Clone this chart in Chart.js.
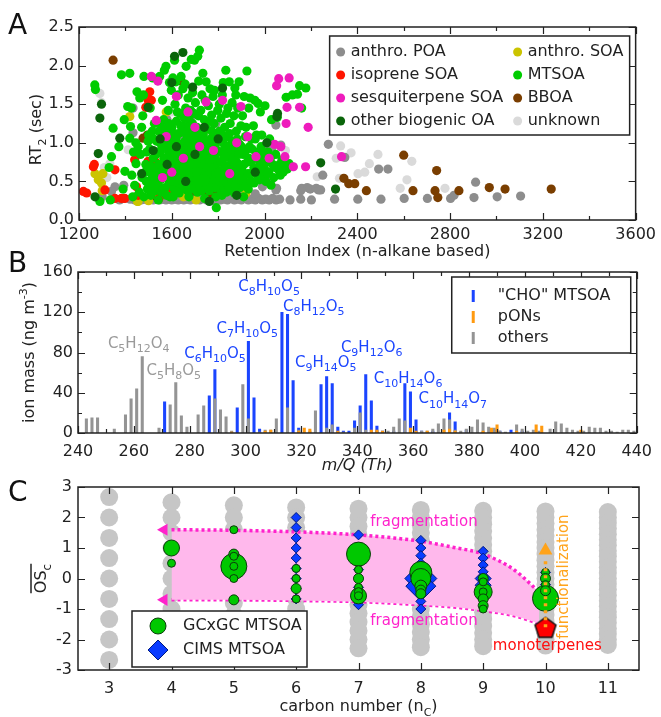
<!DOCTYPE html>
<html>
<head>
<meta charset="utf-8">
<script src="https://cdn.jsdelivr.net/npm/chart.js@4.4.1/dist/chart.umd.min.js"></script>
<style>
  html, body { margin: 0; padding: 0; background: #fff; }
  #fig { position: relative; width: 661px; height: 717px; overflow: hidden; background: #fff; }
  #fig canvas { position: absolute; left: 0; }
</style>
</head>
<body>
<div id="fig">
  <canvas id="chartA" width="661" height="270" style="top:0px"></canvas>
  <canvas id="chartB" width="661" height="236" style="top:240px"></canvas>
  <canvas id="chartC" width="661" height="247" style="top:470px"></canvas>
</div>
<script>
// ---------- panel A : retention index vs RT2, one list per source class ----------
const anthroPOA = [[1375,0.26],[1395,0.28],[1420,0.27],[1440,0.26],[1455,0.30],[1468,0.26],[1480,0.27],[1495,0.26],
  [1505,0.29],[1520,0.26],[1535,0.28],[1548,0.26],[1560,0.27],[1575,0.26],[1590,0.28],[1600,0.26],[1615,0.27],
  [1628,0.26],[1640,0.29],[1652,0.26],[1665,0.27],[1680,0.26],[1692,0.28],[1705,0.27],[1720,0.26],[1735,0.28],
  [1750,0.26],[1765,0.27],[1780,0.26],[1795,0.28],[1810,0.26],[1825,0.27],[1840,0.26],[1855,0.28],[1870,0.26],
  [1885,0.27],[1900,0.26],[1915,0.28],[1930,0.26],[1945,0.27],[1960,0.26],[1975,0.28],[1990,0.26],[2005,0.27],
  [2020,0.26],[2035,0.28],[2050,0.26],[2065,0.27],[2110,0.26],[2156,0.27],[2202,0.26],[2302,0.27],[2402,0.27],
  [2502,0.27],[2602,0.28],[2702,0.28],[2802,0.28],[2903,0.29],[3003,0.30],[3104,0.31],
  [1355,0.43],[1393,0.45],[1433,1.13],[1433,1.45],[1300,0.30],[1340,0.37],[2049,1.23],[2006,0.97],[2034,0.95],
  [2070,0.97],[1991,0.43],[2049,0.39],[2030,0.52],[2052,0.41],[2160,0.41],[2184,0.42],[2197,0.40],[2223,0.41],
  [2233,0.39],[2242,0.39],[2251,0.58],[2156,0.38],[2275,0.98],[2346,0.81],[2492,0.66],[2532,0.66],[2817,0.32],
  [2910,0.49],[1560,0.95],[1600,0.75],[1650,1.10],[1700,0.50],[1750,0.40],[1800,0.42],[1870,0.48],[1900,0.36],
  [1950,0.52],[1790,1.25],[1690,1.35],[1580,1.30],[1840,0.38],[1960,0.34]];
const anthroSOA = [[1269,0.60],[1283,0.52],[1297,0.48],[1303,0.60],[1419,1.34],[1455,0.24],[1500,0.25],[1576,1.40],
  [1705,0.26],[1920,0.35],[1452,0.24],[1540,0.35],[1300,0.38],[1650,0.30]];
const isopreneSOA = [[1219,0.37],[1233,0.35],[1262,0.69],[1266,0.72],[1312,0.39],[1355,0.65],[1355,0.28],[1383,0.28],
  [1397,0.28],[1448,0.43],[1505,1.66],[1512,1.55],[1498,0.76],[1512,0.43],[1584,0.95],[1570,1.14],[1488,1.46],
  [1498,1.55],[1455,0.32],[1530,0.75],[1545,0.28],[1600,0.40],[1440,0.78],[1620,0.60]];
const mtsoa = [[1268,1.75],[1271,1.69],[1290,0.24],[1335,0.26],[1347,1.19],[1340,0.82],[1330,0.68],[1383,1.88],
  [1398,0.63],[1372,0.95],[1390,0.40],[1395,1.30],[1419,1.90],[1410,1.47],[1426,1.45],[1422,1.21],[1419,1.06],
  [1432,0.30],[1440,0.45],[1446,0.73],[1435,0.88],[1428,0.58],[1445,1.00],
  [1450,1.66],[1462,1.58],[1455,0.95],[1465,0.85],[1470,1.20],[1475,1.35],[1480,1.86],[1485,0.62],[1490,0.50],
  [1495,0.40],[1488,0.72],[1460,0.36],[1472,0.55],[1498,1.02],[1478,1.62],
  [1500,1.10],[1505,0.92],[1510,0.32],[1515,0.55],[1518,1.84],[1520,0.80],[1525,1.25],[1530,0.68],[1535,1.02],
  [1540,0.45],[1545,1.15],[1548,1.86],[1507,1.45],[1528,0.38],[1538,0.88],[1512,0.62],[1542,0.26],[1522,1.05],
  [1550,0.88],[1555,0.36],[1560,1.55],[1562,0.72],[1565,1.30],[1568,1.94],[1570,0.58],[1575,1.99],[1578,1.05],
  [1580,0.95],[1585,1.42],[1588,0.48],[1590,1.78],[1592,0.30],[1595,0.82],[1598,1.68],[1556,1.20],[1572,0.42],
  [1583,0.65],[1596,1.10],[1552,0.52],[1566,0.80],[1587,1.25],[1599,0.55],
  [1600,1.20],[1603,0.62],[1605,1.84],[1608,1.00],[1610,0.40],[1612,2.07],[1614,1.50],[1616,0.75],[1618,1.79],
  [1620,1.28],[1622,0.55],[1625,0.90],[1628,1.62],[1630,1.12],[1632,0.35],[1635,1.38],[1638,0.68],[1640,1.86],
  [1642,0.98],[1645,0.48],[1648,1.70],[1606,0.30],[1613,0.85],[1627,0.46],[1634,0.78],[1643,1.15],[1619,1.05],
  [1646,0.58],
  [1650,1.22],[1652,0.82],[1655,0.60],[1658,1.76],[1660,1.45],[1662,1.99],[1665,0.92],[1668,0.38],[1670,1.58],
  [1672,0.70],[1675,1.30],[1678,1.05],[1680,0.52],[1684,2.08],[1686,1.12],[1688,0.80],[1690,1.65],[1692,0.44],
  [1695,1.38],[1698,2.07],[1699,0.64],[1657,1.02],[1666,1.18],[1674,0.30],[1682,0.88],[1694,0.98],[1663,0.75],
  [1702,1.52],[1705,0.85],[1708,1.20],[1710,0.36],[1712,2.12],[1714,0.72],[1716,1.80],[1718,1.00],[1719,2.20],
  [1722,0.55],[1725,1.42],[1728,0.92],[1730,1.62],[1732,0.45],[1734,1.90],[1736,1.10],[1738,0.66],[1740,1.30],
  [1742,0.28],[1745,0.80],[1748,1.79],[1704,0.60],[1715,1.35],[1726,0.62],[1739,0.98],[1744,1.55],[1720,0.42],
  [1711,1.05],
  [1752,1.18],[1755,0.58],[1758,1.48],[1760,0.90],[1762,0.38],[1765,1.70],[1768,1.05],[1770,0.70],[1772,1.36],
  [1775,0.48],[1778,1.60],[1780,0.82],[1782,1.25],[1784,1.68],[1786,0.55],[1788,0.98],[1790,0.30],[1792,0.16],
  [1794,1.12],[1796,0.65],[1798,1.42],[1756,0.78],[1764,1.28],[1774,0.62],[1785,0.42],[1766,0.50],
  [1802,0.75],[1805,1.50],[1808,0.40],[1810,1.02],[1812,1.32],[1815,0.60],[1818,1.62],[1820,0.88],[1822,1.78],
  [1825,0.50],[1828,1.20],[1830,0.70],[1833,1.94],[1835,0.36],[1838,1.08],[1840,0.82],[1842,1.45],[1845,0.55],
  [1848,1.79],[1850,0.95],[1806,1.15],[1816,0.32],[1826,0.98],[1836,1.38],[1846,0.68],
  [1852,1.25],[1855,0.45],[1858,0.78],[1860,1.52],[1862,1.02],[1865,0.62],[1868,1.35],[1870,0.35],[1872,1.71],
  [1875,0.88],[1878,1.15],[1880,0.55],[1884,1.45],[1888,0.72],[1890,1.79],[1892,0.98],[1895,0.42],[1898,1.22],
  [1876,1.62],
  [1902,0.65],[1905,1.35],[1908,0.85],[1912,1.60],[1915,0.50],[1918,1.08],[1920,1.20],[1924,1.93],[1926,0.75],
  [1930,0.40],[1932,1.45],[1935,0.95],[1938,1.58],[1940,0.60],[1944,1.05],[1948,0.78],[1910,0.30],
  [1952,1.22],[1955,0.48],[1958,1.55],[1962,0.88],[1965,1.10],[1968,0.65],[1972,1.51],[1975,0.80],[1978,0.52],
  [1982,1.40],[1985,0.95],[1988,1.10],[1990,0.70],[1995,0.60],[1998,0.82],
  [2002,1.48],[2006,0.50],[2010,0.75],[2015,0.88],[2018,0.62],[2022,1.05],[2028,0.45],[2035,0.72],[2040,0.55],
  [2048,0.85],[2055,1.33],[2060,0.65],[2068,0.58],[2075,0.78],[2088,0.70],[2093,1.59],[2030,1.30],
  [2106,0.73],[2142,1.63],[2151,1.74],[2160,1.45],[2178,1.71],[2120,1.62],
  [1480,0.30],[1492,0.88],[1503,0.45],[1508,0.70],[1516,1.15],[1524,0.48],[1532,0.85],[1537,0.58],[1544,0.72],
  [1549,1.00],[1553,0.62],[1558,0.95],[1563,0.40],[1567,1.08],[1573,0.78],[1577,0.32],[1582,1.15],[1586,0.88],
  [1591,0.60],[1594,1.00],[1597,0.70],[1602,0.90],[1604,0.50],[1609,0.68],[1611,1.12],[1617,0.38],[1621,0.66],
  [1624,1.40],[1626,0.80],[1629,0.58],[1633,0.95],[1636,0.52],[1639,1.22],[1641,0.40],[1644,0.70],[1647,0.90],
  [1651,0.42],[1654,1.32],[1656,0.72],[1659,0.58],[1661,0.85],[1664,1.10],[1667,0.62],[1669,0.45],[1671,0.95],
  [1673,1.20],[1676,0.78],[1679,0.62],[1681,1.42],[1683,0.40],[1685,0.68],[1687,0.95],[1689,1.25],[1691,0.58],
  [1693,0.75],[1696,0.50],[1697,1.08],[1701,0.72],[1703,0.95],[1706,0.48],[1707,1.10],[1709,0.62],[1713,0.85],
  [1717,0.52],[1721,0.75],[1723,1.15],[1727,0.80],[1729,0.38],[1731,1.00],[1733,0.70],[1737,0.88],[1741,0.55],
  [1743,0.72],[1746,1.02],[1749,0.62],[1751,0.45],[1754,0.88],[1757,0.68],[1759,1.02],[1761,0.55],[1763,0.80],
  [1767,0.92],[1769,0.42],[1771,0.60],[1773,1.15],[1776,0.75],[1779,0.95],[1781,0.50],[1783,0.68],[1787,0.80],
  [1789,0.60],[1791,1.05],[1793,0.45],[1797,0.90],[1799,0.52],[1803,0.62],[1807,0.88],[1809,0.55],[1813,0.75],
  [1817,1.10],[1819,0.45],[1821,0.65],[1824,0.80],[1827,0.40],[1829,0.90],[1832,0.60],[1837,0.48],[1839,0.95],
  [1843,0.65],[1847,0.42],[1849,1.12],[1853,0.72],[1857,0.90],[1861,0.50],[1864,0.80],[1867,0.95],[1871,0.65],
  [1874,0.45],[1879,0.75],[1882,1.05],[1886,0.60],[1889,0.85],[1893,0.52],[1897,0.70],[1901,0.95],[1906,0.55],
  [1911,0.72],[1916,0.88],[1921,0.45],[1928,0.60],[1933,0.80],[1942,0.50],[1946,0.92],[1954,0.68],[1960,1.05],
  [1970,0.58],[1980,0.72],[1992,0.88],[2000,0.66],[2012,0.60],[2025,0.80],[2045,0.68],[2065,0.72],[2080,0.62],
  [2098,0.66]];
const sesquiSOA = [[1512,1.86],[1540,1.80],[1533,1.29],[1576,1.08],[1748,1.53],[1819,1.55],[1898,1.47],[1927,1.08],
  [1963,0.82],[2020,0.80],[2061,1.83],[2106,1.84],[2052,1.74],[2097,1.46],[2151,1.46],[2188,1.20],[2093,1.25],
  [2043,0.98],[2070,0.95],[2124,0.69],[2088,0.82],[2177,0.69],[2332,0.82],[1600,0.62],[1650,0.80],[1700,1.20],
  [1720,0.95],[1850,0.60],[1880,1.00],[1780,0.90],[1560,0.55],[1620,1.60],[1670,1.40]];
const bboa = [[1347,2.07],[1533,0.30],[1762,0.35],[1791,0.35],[1805,0.38],[1476,1.06],[1495,1.10],[1734,1.12],
  [1600,0.95],[1640,1.80],[2342,0.54],[2363,0.47],[2389,0.47],[2439,0.38],[2600,0.84],[2640,0.38],[2735,0.38],
  [2742,0.64],[2747,0.29],[2838,0.38],[2969,0.42],[3037,0.40],[3236,0.40],[1860,0.45],[1680,0.36]];
const otherBiogenic = [[1290,1.32],[1283,0.86],[1297,1.50],[1376,1.06],[1269,0.30],[1612,2.12],[1648,2.17],
  [1819,1.71],[2056,1.38],[2053,1.34],[2242,0.74],[2306,0.40],[1762,0.24],[1498,1.46],[1520,0.90],[1550,1.05],
  [1580,0.72],[1620,0.95],[1660,0.50],[1700,0.85],[1740,1.20],[1800,1.05],[1690,1.72],[1470,0.60],[1960,0.62],
  [2010,1.00],[1880,0.32],[1600,1.78]];
const unknownOA = [[1290,1.64],[1297,1.52],[1333,0.73],[1304,0.60],[1320,0.55],[1412,0.91],[1309,0.68],[2328,0.96],
  [2373,0.87],[2309,0.80],[2452,0.73],[2489,0.85],[2635,0.76],[2403,0.60],[2432,0.62],[2227,0.56],[2323,0.54],
  [2614,0.52],[2585,0.41],[2778,0.41],[2124,0.69],[2090,0.90],[1540,1.80],[1600,1.40],[1680,1.60],[1720,0.40],
  [1850,1.10],[1630,1.00],[1760,0.62]];

// ---------- panel B : ion mass spectrum ----------
const choMz = [271,287,289,297,301,303,305,313,315,317,319,327,329,331,333,335,337,339,341,343,345,347,349,353,
  357,359,361,363,367,373,375,379,389,391,395,399];
const choMass = [31,37,63,25,91,35,4,120,118,52,5,48,56,49,6,2,2,12,27,58,32,7,2,2,49,41,13,2,2,20,11,3,3,2,3,2];
const ponMz = [295,307,309,319,321,323,333,345,347,349,359,361,365,371,373,375,385,388,390,397,404,406,420];
const ponMass = [1,2,3,2,5,4,2,3,3,2,5,2,2,3,4,2,2,5,8,2,8,7,3];
const otherMz = [243,245,247,253,257,259,261,263,269,273,275,277,279,283,285,289,291,293,295,299,301,305,307,
  309,311,315,319,323,325,329,331,335,339,341,343,347,351,353,355,357,359,363,365,367,369,371,373,375,377,379,
  381,383,385,387,389,391,393,397,399,401,403,405,409,411,413,415,417,419,421,423,425,427,429,431,433,435,437,439];
const otherMass = [14,15,15,4,18,34,44,76,5,28,50,17,6,18,27,34,23,16,2,48,14,1,3,3,14,25,3,2,22,5,8,1,5,20,3,2,
  2,6,14,12,3,2,2,4,9,14,13,3,2,4,6,13,10,6,5,2,1,8,4,2,3,2,4,11,9,5,3,2,2,6,5,5,2,2,1,3,3,2];
// formula, m/Q where the label starts, ion mass at its baseline, class
const formulaLabels = [['C5H12O4',250.7,84.5,'others'],['C5H8O5',264.5,57.7,'others'],['C6H10O5',278,74.6,'cho'],
  ['C7H10O5',289.6,99.4,'cho'],['C8H10O5',297.4,141.2,'cho'],['C8H12O5',313.4,121.3,'cho'],
  ['C9H14O5',317.7,65.6,'cho'],['C9H12O6',334.1,80.5,'cho'],['C10H14O6',345.9,49.7,'cho'],['C10H14O7',361.9,29.8,'cho']];

// ---------- panel C : oxidation state vs carbon number ----------
const carbonTicks = [3,4,5,6,7,8,9,10,11];
const possibleOSc = [
  [3, [2.67,2,1.33,0.67,0,-0.67,-1.33,-2,-2.67]],
  [4, [2.5,2,1.5,1,0.5,0,-0.5,-1,-1.5,-2,-2.5]],
  [5, [2.4,2,1.6,1.2,0.8,0.4,0,-0.4,-0.8,-1.2,-1.6,-2,-2.4]],
  [6, [2.33,2,1.67,1.33,1,0.67,0.33,0,-0.33,-0.67,-1,-1.33,-1.67,-2,-2.33]],
  [7, [2.29,2,1.71,1.43,1.14,0.86,0.57,0.29,0,-0.29,-0.57,-0.86,-1.14,-1.43,-1.71,-2,-2.29]],
  [8, [2.25,2,1.75,1.5,1.25,1,0.75,0.5,0.25,0,-0.25,-0.5,-0.75,-1,-1.25,-1.5,-1.75,-2,-2.25]],
  [9, [2.22,2,1.78,1.56,1.33,1.11,0.89,0.67,0.44,0.22,0,-0.22,-0.44,-0.67,-0.89,-1.11,-1.33,-1.56,-1.78,-2,-2.22]],
  [10, [2.2,2,1.8,1.6,1.4,1.2,1,0.8,0.6,0.4,0.2,0,-0.2,-0.4,-0.6,-0.8,-1,-1.2,-1.4,-1.6,-1.8,-2,-2.2]],
  [11, [2.18,2,1.82,1.64,1.45,1.27,1.09,0.91,0.73,0.55,0.36,0.18,0,-0.18,-0.36,-0.55,-0.73,-0.91,-1.09,-1.27,
        -1.45,-1.64,-1.82,-2,-2.18]]
];
const gcxgcC = [4,4,5,5,5,5,5,5,5,6,6,6,6,7,7,7,7,7,7,7,8,8,8,8,8,9,9,9,9,9,9,9,10,10,10,10,10];
const gcxgcOS = [1.0,0.5,0.4,1.6,0.8,0.73,0.4,0,-0.7,0.33,0,-0.33,-0.67,0.8,-0.57,0.29,0,-0.29,-0.43,-0.57,
  0.2,0,-0.25,-0.38,-0.5,-0.44,0,-0.11,-0.44,-0.67,-0.89,-1.0,-0.65,0.2,0,-0.2,-0.4];
const gcxgcAmount = [8,4,13,4,5,4,4,4,5,4,4,5,4,12,8,4,5,4,4,4,11,10,6,5,5,9,5,4,4,5,5,4,13,4,5,4,5];
const cimsC = [6,6,6,6,6,6,6,6,6,7,7,7,7,7,7,7,8,8,8,8,8,8,8,8,8,8,9,9,9,9,9,9,9,9,10,10,10,10];
const cimsOS = [2,1.67,1.33,1,0.67,0.33,0,-0.33,-0.67, 1.43,0.57,0.29,0,-0.29,-0.57,-0.86,
  0,-0.25,1.25,1,0.75,0.5,0.25,-0.5,-0.75,-1, 0,-0.22,0.89,0.67,0.44,0.22,-0.44,-0.67, 0.2,0,-0.2,-0.4];
const cimsAmount = [5,5,5,5,5,5,5,5,5, 5,5,5,5,5,5,5, 16,15,5,5,5,5,6,5,5,5, 8,8,5,5,5,5,5,5, 5,5,5,5];
const upperEdgeC = [4,5,6,7,8,8.5,9,9.5,9.9];
const upperEdgeOS = [1.6,1.58,1.53,1.43,1.22,1.03,0.8,0.28,-0.45];
const lowerEdgeC = [4,5,6,7,8,8.5,9,9.5,9.9];
const lowerEdgeOS = [-0.7,-0.7,-0.72,-0.76,-0.86,-0.93,-1.05,-1.22,-1.48];
const monoterpenes = [10, -1.6];

// ---------- common helpers ----------
const FONT = '"DejaVu Sans", sans-serif';
Chart.defaults.font.family = FONT;
Chart.defaults.font.size = 16;
Chart.defaults.color = '#222';
Chart.defaults.animation = false;
Chart.defaults.events = [];
Chart.defaults.plugins.legend.display = false;
Chart.defaults.plugins.tooltip.enabled = false;

function pts(list) { return list.map(p => ({x: p[0], y: p[1]})); }

function txt(ctx, s, x, y, size, color, align, style) {
  ctx.font = (style || '') + ' ' + size + 'px ' + FONT;
  ctx.fillStyle = color;
  ctx.textAlign = align || 'left';
  ctx.textBaseline = 'middle';
  ctx.fillText(s, x, y);
}

// parts: [text, 0 normal | 1 subscript | 2 superscript], y is the baseline
function rich(ctx, parts, x, y, size, subSize, color, center) {
  ctx.textAlign = 'left';
  ctx.textBaseline = 'alphabetic';
  ctx.fillStyle = color;
  let w = 0;
  parts.forEach(([t, k]) => { ctx.font = (k ? subSize : size) + 'px ' + FONT; w += ctx.measureText(t).width; });
  let cx = center ? x - w / 2 : x;
  parts.forEach(([t, k]) => {
    ctx.font = (k ? subSize : size) + 'px ' + FONT;
    ctx.fillText(t, cx, y + (k === 1 ? size * 0.3 : k === 2 ? -size * 0.45 : 0));
    cx += ctx.measureText(t).width;
  });
  return w;
}

function formulaParts(f) {
  return f.match(/[A-Z][a-z]?|\d+/g).map(t => [t, /\d/.test(t) ? 1 : 0]);
}

// box round the plot area with inward ticks on all four sides
function drawFrame(chart, xStep, yStep) {
  const {ctx, chartArea: a, scales: {x, y}} = chart;
  const majX = x.ticks.map(t => t.value), majY = y.ticks.map(t => t.value);
  const isMaj = (arr, v) => arr.some(m => Math.abs(m - v) < 1e-6);
  ctx.save();
  ctx.strokeStyle = '#222';
  ctx.lineWidth = 1.2;
  ctx.beginPath();
  for (let v = Math.ceil(x.min / xStep - 1e-9) * xStep; v <= x.max + 1e-9; v += xStep) {
    const p = Math.round(x.getPixelForValue(v)) + 0.5;
    const L = isMaj(majX, v) ? 7 : 4;
    ctx.moveTo(p, a.bottom); ctx.lineTo(p, a.bottom - L);
    ctx.moveTo(p, a.top); ctx.lineTo(p, a.top + L);
  }
  for (let v = Math.ceil(y.min / yStep - 1e-9) * yStep; v <= y.max + 1e-9; v += yStep) {
    const p = Math.round(y.getPixelForValue(v)) + 0.5;
    const L = isMaj(majY, v) ? 7 : 4;
    ctx.moveTo(a.left, p); ctx.lineTo(a.left + L, p);
    ctx.moveTo(a.right, p); ctx.lineTo(a.right - L, p);
  }
  ctx.stroke();
  ctx.lineWidth = 1.5;
  ctx.strokeRect(a.left, a.top, a.right - a.left, a.bottom - a.top);
  ctx.restore();
}

function legendBox(ctx, l, t, w, h) {
  ctx.save();
  ctx.fillStyle = '#fff';
  ctx.fillRect(l, t, w, h);
  ctx.strokeStyle = '#222';
  ctx.lineWidth = 1.5;
  ctx.strokeRect(l, t, w, h);
  ctx.restore();
}

function hideGrid() { return {display: false, drawTicks: false}; }

// ---------- panel A ----------
const seriesA = [
  {label: 'anthro. POA', data: anthroPOA, color: '#8d8d8d', z: 6},
  {label: 'anthro. SOA', data: anthroSOA, color: '#cbc400', z: 4},
  {label: 'isoprene SOA', data: isopreneSOA, color: '#ff1500', z: 3},
  {label: 'MTSOA', data: mtsoa, color: '#00cc00', z: 0},
  {label: 'sesquiterpene SOA', data: sesquiSOA, color: '#ee1cbc', z: -1},
  {label: 'BBOA', data: bboa, color: '#7a3e00', z: 5},
  {label: 'other biogenic OA', data: otherBiogenic, color: '#0a650a', z: -2},
  {label: 'unknown', data: unknownOA, color: '#dadada', z: 7}
];

const decorA = {
  id: 'decorA',
  afterDraw(chart) {
    const {ctx, chartArea: a} = chart;
    drawFrame(chart, 200, 0.5);
    legendBox(ctx, a.right - 306, a.top + 9, 300, 99);
    chart.data.datasets.forEach((ds, i) => {
      const mx = (i % 2 === 0) ? a.right - 295 : a.right - 118;
      const my = a.top + 25 + Math.floor(i / 2) * 23;
      ctx.beginPath();
      ctx.arc(mx, my, 4.5, 0, Math.PI * 2);
      ctx.fillStyle = ds.backgroundColor;
      ctx.fill();
      txt(ctx, ds.label, mx + 10, my, 16, '#222');
    });
    txt(ctx, 'Retention Index (n-alkane based)', (a.left + a.right) / 2, 252, 16, '#222', 'center');
    ctx.save();
    ctx.translate(30, (a.top + a.bottom) / 2 + 6);
    ctx.rotate(-Math.PI / 2);
    rich(ctx, [['RT', 0], ['2', 1], [' (sec)', 0]], 0, 11, 16, 11, '#222', true);
    ctx.restore();
    txt(ctx, 'A', 8, 27, 28, '#111');
  }
};

new Chart(document.getElementById('chartA'), {
  type: 'scatter',
  data: {
    datasets: seriesA.map(s => ({
      label: s.label, data: pts(s.data), backgroundColor: s.color, borderWidth: 0,
      pointRadius: 4.6, order: s.z, showLine: false
    }))
  },
  options: {
    responsive: false,
    layout: {padding: {top: 27, right: 23, left: 0, bottom: 0}},
    scales: {
      x: {type: 'linear', min: 1200, max: 3600, grid: hideGrid(), border: {display: false},
          ticks: {stepSize: 400, padding: 5, callback: v => String(v)},
          afterFit: s => { s.height = 50; }},
      y: {min: 0, max: 2.5, grid: hideGrid(), border: {display: false},
          ticks: {stepSize: 0.5, padding: 5, callback: v => v.toFixed(1)},
          afterFit: s => { s.width = 79; }}
    }
  },
  plugins: [decorA]
});

// ---------- panel B ----------
const colorCHO = '#1b45ff', colorPON = '#ff9a10', colorOther = '#949494';

const decorB = {
  id: 'decorB',
  afterDraw(chart) {
    const {ctx, chartArea: a, scales: {x, y}} = chart;
    drawFrame(chart, 10, 20);
    formulaLabels.forEach(([f, mz, mass, cls]) => {
      rich(ctx, formulaParts(f), x.getPixelForValue(mz), y.getPixelForValue(mass), 15, 11,
           cls === 'cho' ? colorCHO : '#9a9a9a', false);
    });
    legendBox(ctx, a.right - 185, a.top + 5, 179, 76);
    const entries = [['"CHO" MTSOA', colorCHO], ['pONs', colorPON], ['others', colorOther]];
    entries.forEach(([lab, col], i) => {
      const my = a.top + 24 + i * 21;
      ctx.fillStyle = col;
      ctx.fillRect(a.right - 165, my - 6, 3, 12);
      txt(ctx, lab, a.right - 139, my, 16, '#222');
    });
    txt(ctx, 'm/Q (Th)', (a.left + a.right) / 2, 226, 16, '#222', 'center', 'italic');
    ctx.save();
    ctx.translate(30, (a.top + a.bottom) / 2);
    ctx.rotate(-Math.PI / 2);
    rich(ctx, [['ion mass (ng m', 0], ['-3', 2], [')', 0]], 0, 4, 16, 11, '#222', true);
    ctx.restore();
    txt(ctx, 'B', 8, 25, 28, '#111');
  }
};

new Chart(document.getElementById('chartB'), {
  type: 'bar',
  data: {
    datasets: [
      {label: 'pONs', data: ponMz.map((m, i) => ({x: m, y: ponMass[i]})), backgroundColor: colorPON, order: 0},
      {label: 'others', data: otherMz.map((m, i) => ({x: m, y: otherMass[i]})), backgroundColor: colorOther, order: 1},
      {label: '"CHO" MTSOA', data: choMz.map((m, i) => ({x: m, y: choMass[i]})), backgroundColor: colorCHO, order: 2}
    ]
  },
  options: {
    responsive: false,
    layout: {padding: {top: 32, right: 22, left: 0, bottom: 0}},
    datasets: {bar: {grouped: false, barThickness: 2.4, borderWidth: 0}},
    scales: {
      x: {type: 'linear', min: 240, max: 440, offset: false, grid: hideGrid(), border: {display: false},
          ticks: {stepSize: 20, padding: 9}, afterFit: s => { s.height = 43; }},
      y: {min: 0, max: 160, grid: hideGrid(), border: {display: false},
          ticks: {stepSize: 40, padding: 5}, afterFit: s => { s.width = 78; }}
    }
  },
  plugins: [decorB]
});

// ---------- panel C ----------
const green = '#00c800', blue = '#0a3cff', magenta = '#ff22cc', orange = '#ffa31a';

function pentagon(r) {
  const c = document.createElement('canvas');
  const s = 2 * r + 4;
  c.width = s; c.height = s;
  const g = c.getContext('2d');
  g.beginPath();
  for (let i = 0; i < 5; i++) {
    const ang = -Math.PI / 2 + i * 2 * Math.PI / 5;
    g.lineTo(s / 2 + r * Math.cos(ang), s / 2 + r * Math.sin(ang) + r * 0.1);
  }
  g.closePath();
  g.fillStyle = '#ff0000';
  g.fill();
  g.lineWidth = 1.5;
  g.strokeStyle = '#111';
  g.stroke();
  return c;
}

const grayPoints = [];
possibleOSc.forEach(([n, list]) => list.forEach(v => grayPoints.push({x: n, y: v})));

const decorC = {
  id: 'decorC',
  afterDraw(chart) {
    const {ctx, chartArea: a, scales: {x, y}} = chart;
    drawFrame(chart, 1, 1);
    // legend
    legendBox(ctx, a.left + 54, a.bottom - 59, 175, 56);
    const lx = a.left + 80;
    ctx.save();
    ctx.beginPath();
    ctx.arc(lx, a.bottom - 44, 8, 0, Math.PI * 2);
    ctx.fillStyle = green; ctx.fill();
    ctx.lineWidth = 1; ctx.strokeStyle = '#0b3d0b'; ctx.stroke();
    ctx.beginPath();
    ctx.moveTo(lx, a.bottom - 30); ctx.lineTo(lx + 10, a.bottom - 20);
    ctx.lineTo(lx, a.bottom - 10); ctx.lineTo(lx - 10, a.bottom - 20); ctx.closePath();
    ctx.fillStyle = blue; ctx.fill();
    ctx.strokeStyle = '#001a80'; ctx.stroke();
    ctx.restore();
    txt(ctx, 'GCxGC MTSOA', lx + 25, a.bottom - 44, 16, '#222');
    txt(ctx, 'CIMS MTSOA', lx + 25, a.bottom - 20, 16, '#222');
    // annotations
    txt(ctx, 'fragmentation', x.getPixelForValue(7.19), y.getPixelForValue(1.84), 15, magenta, 'left');
    txt(ctx, 'fragmentation', x.getPixelForValue(7.19), y.getPixelForValue(-1.41), 15, magenta, 'left');
    txt(ctx, 'monoterpenes', x.getPixelForValue(10.03), y.getPixelForValue(-2.22), 15, '#ff1010', 'center');
    ctx.save();
    ctx.translate(x.getPixelForValue(10.3), y.getPixelForValue(0.06));
    ctx.rotate(-Math.PI / 2);
    txt(ctx, 'functionalization', 0, 0, 15, orange, 'center');
    ctx.restore();
    // axis titles
    rich(ctx, [['carbon number (n', 0], ['C', 1], [')', 0]], (a.left + a.right) / 2, 241, 16, 11, '#222', true);
    ctx.save();
    ctx.translate(34, (a.top + a.bottom) / 2);
    ctx.rotate(-Math.PI / 2);
    const w = rich(ctx, [['OS', 0], ['c', 1]], 0, 12, 16, 12, '#222', true);
    ctx.strokeStyle = '#222'; ctx.lineWidth = 1.5;
    ctx.beginPath(); ctx.moveTo(-w / 2, -3); ctx.lineTo(w / 2, -3); ctx.stroke();
    ctx.restore();
    txt(ctx, 'C', 8, 24, 28, '#111');
  }
};

new Chart(document.getElementById('chartC'), {
  type: 'scatter',
  data: {
    datasets: [
      {label: 'GCxGC MTSOA', data: gcxgcC.map((n, i) => ({x: n, y: gcxgcOS[i], r: gcxgcAmount[i]})),
       backgroundColor: green, borderColor: '#0b3d0b', borderWidth: 1, showLine: false,
       pointRadius: c => c.raw.r, order: 0},
      {label: 'CIMS MTSOA', data: cimsC.map((n, i) => ({x: n, y: cimsOS[i], r: cimsAmount[i]})),
       backgroundColor: blue, borderColor: '#001a80', borderWidth: 1, showLine: false, pointStyle: 'rectRot',
       pointRadius: c => c.raw.r, order: 2},
      {label: 'upper', type: 'line', data: upperEdgeC.map((n, i) => ({x: n, y: upperEdgeOS[i]})),
       showLine: true, fill: '+1', backgroundColor: 'rgb(255,184,236)', borderColor: magenta, borderWidth: 3.5,
       borderDash: [3, 3], cubicInterpolationMode: 'monotone', pointRadius: 0, order: 5},
      {label: 'lower', type: 'line', data: lowerEdgeC.map((n, i) => ({x: n, y: lowerEdgeOS[i]})),
       showLine: true, fill: false, borderColor: magenta, borderWidth: 3.5,
       borderDash: [3, 3], cubicInterpolationMode: 'monotone', pointRadius: 0, order: 5},
      {label: 'fragmentation arrows', data: [{x: 3.88, y: upperEdgeOS[0]}, {x: 3.88, y: lowerEdgeOS[0]}],
       showLine: false, pointStyle: 'triangle', pointRotation: -90, pointRadius: 7,
       backgroundColor: magenta, borderWidth: 0, order: 4},
      {label: 'monoterpenes', data: [{x: monoterpenes[0], y: monoterpenes[1]}], showLine: false,
       pointStyle: pentagon(11), order: 3},
      {label: 'functionalization', type: 'line',
       data: [{x: monoterpenes[0], y: monoterpenes[1]}, {x: monoterpenes[0], y: 0.7}],
       showLine: true, fill: false, borderColor: orange, borderWidth: 3.5, borderDash: [3, 4],
       pointRadius: 0, order: -1},
      {label: 'functionalization head', data: [{x: monoterpenes[0], y: 0.92}], showLine: false,
       pointStyle: 'triangle', pointRadius: 8, backgroundColor: orange, borderWidth: 0, order: -1},
      {label: 'possible', data: grayPoints, showLine: false, pointRadius: 9,
       backgroundColor: '#c6c6c6', borderWidth: 0, order: 10}
    ]
  },
  options: {
    responsive: false,
    layout: {padding: {top: 8, right: 22, left: 0, bottom: 0}},
    scales: {
      x: {type: 'linear', min: 2.5, max: 11.5, grid: hideGrid(), border: {display: false},
          afterBuildTicks: s => { s.ticks = carbonTicks.map(v => ({value: v})); },
          ticks: {padding: 9}, afterFit: s => { s.height = 47; }},
      y: {min: -3, max: 3, grid: hideGrid(), border: {display: false},
          ticks: {stepSize: 1, padding: 6}, afterFit: s => { s.width = 78; }}
    }
  },
  plugins: [decorC]
});
</script>
</body>
</html>
